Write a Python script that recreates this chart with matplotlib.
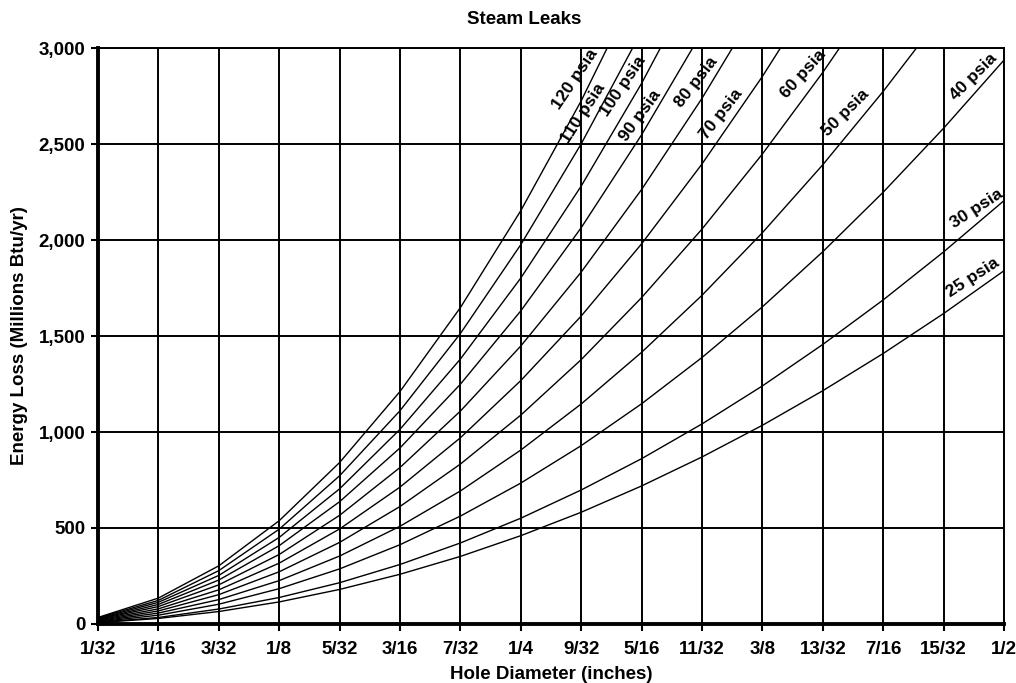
import matplotlib
matplotlib.use("Agg")
import matplotlib.pyplot as plt
import numpy as np

plt.rcParams['font.family'] = ['Liberation Sans', 'DejaVu Sans']
plt.rcParams['font.weight'] = 'bold'

# hole diameter in 32nds of an inch
sizes = [1, 2, 3, 4, 5, 6, 7, 8, 9, 10, 11, 12, 13, 14, 15, 16]
tick_labels = ['1/32', '1/16', '3/32', '1/8', '5/32', '3/16', '7/32', '1/4',
               '9/32', '5/16', '11/32', '3/8', '13/32', '7/16', '15/32', '1/2']

# energy loss, millions Btu/yr at each 1/32 step
psia_25 = [7, 29, 65, 115, 180, 259, 352, 460, 582, 719, 870, 1035, 1215, 1409, 1617, 1840]
psia_30 = [9, 34, 78, 138, 215, 310, 422, 551, 698, 861, 1042, 1240, 1456, 1688, 1938, 2205]
psia_40 = [11, 46, 103, 184, 287, 413, 562, 734, 929, 1147, 1388, 1652, 1939, 2249, 2582, 2937]
psia_50 = [14, 57, 127, 226, 354, 509, 693, 906, 1146, 1415, 1712, 2038, 2392, 2774, 3184]
psia_60 = [17, 68, 153, 272, 425, 612, 833, 1088, 1377, 1700, 2057, 2448, 2873, 3332]
psia_70 = [20, 79, 178, 317, 495, 713, 970, 1268, 1604, 1980, 2396, 2852, 3347]
psia_80 = [23, 91, 204, 362, 566, 815, 1109, 1448, 1833, 2263, 2738, 3259]
psia_90 = [25, 102, 229, 408, 637, 917, 1249, 1631, 2064, 2548, 3083]
psia_100 = [28, 113, 253, 451, 704, 1014, 1380, 1802, 2281, 2816, 3408]
psia_110 = [31, 123, 278, 494, 772, 1111, 1513, 1976, 2501, 3087]
psia_120 = [34, 135, 303, 538, 841, 1211, 1648, 2153, 2725, 3364]

curves = {
    '25 psia': psia_25, '30 psia': psia_30, '40 psia': psia_40,
    '50 psia': psia_50, '60 psia': psia_60, '70 psia': psia_70,
    '80 psia': psia_80, '90 psia': psia_90, '100 psia': psia_100,
    '110 psia': psia_110, '120 psia': psia_120,
}

# label placement (x in 32nds, y in data units, rotation)
label_pos = {
    '120 psia': (8.90, 2840, 56), '110 psia': (9.03, 2660, 57),
    '100 psia': (9.70, 2800, 56), '90 psia': (9.98, 2650, 54),
    '80 psia': (10.90, 2820, 52), '70 psia': (11.32, 2656, 52),
    '60 psia': (12.68, 2862, 48), '50 psia': (13.38, 2662, 45),
    '40 psia': (15.50, 2852, 45), '30 psia': (15.55, 2162, 33),
    '25 psia': (15.49, 1806, 33),
}

fig = plt.figure(figsize=(10.16, 6.83), dpi=100)
ax = fig.add_axes([98 / 1016, 1 - 624 / 683, 906 / 1016, 576 / 683])

for name, vals in curves.items():
    x = np.array(sizes[:len(vals)]) / 32
    ax.plot(x, vals, color='black', lw=1.0, zorder=3)
    lx, ly, rot = label_pos[name]
    ax.text(lx / 32, ly, name, rotation=rot, ha='center', va='center',
            fontsize=12.5, fontweight='bold', rotation_mode='anchor', zorder=4)

ax.set_xlim(1 / 32, 1 / 2)
ax.set_ylim(0, 3000)
ax.set_xticks(np.array(sizes) / 32)
ax.set_xticklabels(tick_labels)
ax.set_yticks(np.arange(0, 3001, 500))
ax.set_yticklabels([f'{v:,}' for v in range(0, 3001, 500)])
ax.grid(True, color='black', lw=1.4)
ax.tick_params(labelsize=13.5, length=5, width=1.5, color='black')
ax.tick_params(axis='x', pad=7)
ax.tick_params(axis='y', pad=4)

for side in ['left', 'bottom']:
    ax.spines[side].set_linewidth(2.8)
for side in ['top', 'right']:
    ax.spines[side].set_linewidth(1.4)

ax.set_xlabel('Hole Diameter (inches)', fontsize=13.5, fontweight='bold', labelpad=6)
ax.set_ylabel('Energy Loss (Millions Btu/yr)', fontsize=13.5, fontweight='bold', labelpad=8)
fig.text(524 / 1016, 1 - 20 / 683, 'Steam Leaks', ha='center', va='center',
         fontsize=13.5, fontweight='bold')

fig.savefig('out.png', dpi=100)
